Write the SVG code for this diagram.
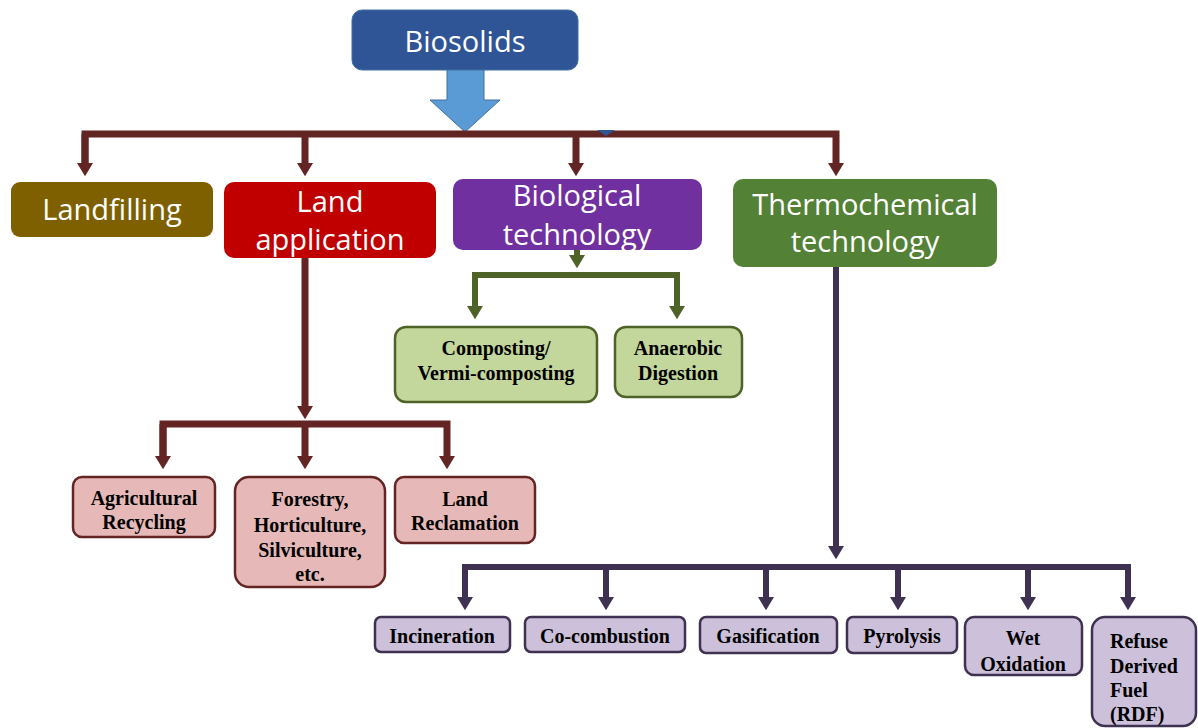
<svg xmlns="http://www.w3.org/2000/svg" width="1198" height="728" viewBox="0 0 1198 728">
<style>
.top{font-family:"Open Sans","Liberation Sans",sans-serif;fill:#fff;text-anchor:middle;font-size:29px}
.sub{font-family:"Liberation Serif","Times New Roman",serif;font-weight:bold;fill:#000;text-anchor:middle;font-size:20px}
.st{text-anchor:start}
.maroon{fill:none;stroke:#632523;stroke-width:7}
.green{fill:none;stroke:#4F6228;stroke-width:6}
.purple{fill:none;stroke:#3F3151;stroke-width:6}
.pink{fill:#E6B9B8;stroke:#632523;stroke-width:2.5}
.lgreen{fill:#C3D69B;stroke:#4F6228;stroke-width:2.5}
.lav{fill:#CCC0DA;stroke:#3F3151;stroke-width:2.5}
</style>
<defs>
<marker id="hm" markerUnits="userSpaceOnUse" markerWidth="20" markerHeight="16" viewBox="0 -9 15 18" refX="0" refY="0" orient="auto"><path d="M0,-9 L15,0 L0,9 Z" fill="#632523"/></marker>
<marker id="hg" markerUnits="userSpaceOnUse" markerWidth="20" markerHeight="16" viewBox="0 -9 15 18" refX="0" refY="0" orient="auto"><path d="M0,-9 L15,0 L0,9 Z" fill="#4F6228"/></marker>
<marker id="hp" markerUnits="userSpaceOnUse" markerWidth="20" markerHeight="16" viewBox="0 -9 15 18" refX="0" refY="0" orient="auto"><path d="M0,-9 L15,0 L0,9 Z" fill="#3F3151"/></marker>
<clipPath id="bioclip"><rect x="453" y="179" width="249" height="71" rx="10"/></clipPath>
</defs>
<rect width="1198" height="728" fill="#fff"/>

<g id="connectors">
  <path d="M466,68 H484 V100 H500 L465,132 L430,100 H447 V68 Z" fill="#5B9BD5" stroke="#41719C" stroke-width="1"/>
  <path class="maroon" d="M85,163 V134 H836 V163" marker-end="url(#hm)"/>
  <path class="maroon" d="M85,134 V163" marker-end="url(#hm)"/>
  <path class="maroon" d="M305,134 V163" marker-end="url(#hm)"/>
  <path class="maroon" d="M576,134 V163" marker-end="url(#hm)"/>
  <path d="M597,130 L615,130 L606,136 Z" fill="#2F5597"/>
  <path class="maroon" d="M305,258 V406" marker-end="url(#hm)"/>
  <path class="maroon" d="M163,456 V424 H447 V456" marker-end="url(#hm)"/>
  <path class="maroon" d="M163,424 V456" marker-end="url(#hm)"/>
  <path class="maroon" d="M305,424 V456" marker-end="url(#hm)"/>
  <path class="green" d="M577,250 V255" marker-end="url(#hg)"/>
  <path class="green" d="M475,306 V275 H677 V306" marker-end="url(#hg)"/>
  <path class="green" d="M475,275 V306" marker-end="url(#hg)"/>
  <path class="purple" d="M836,267 V546" marker-end="url(#hp)"/>
  <path class="purple" d="M465,597 V567 H1128 V597" marker-end="url(#hp)"/>
  <path class="purple" d="M465,567 V597" marker-end="url(#hp)"/>
  <path class="purple" d="M606,567 V597" marker-end="url(#hp)"/>
  <path class="purple" d="M766,567 V597" marker-end="url(#hp)"/>
  <path class="purple" d="M898,567 V597" marker-end="url(#hp)"/>
  <path class="purple" d="M1028,567 V597" marker-end="url(#hp)"/>
</g>

<g id="biosolids">
  <rect x="352" y="10" width="226" height="60" rx="10" fill="#2F5597" stroke="#41719C" stroke-width="1"/>
  <text class="top" x="465" y="52" font-size="30">Biosolids</text>
</g>
<g id="landfilling">
  <rect x="11" y="182" width="202" height="55" rx="9" fill="#7F6000"/>
  <text class="top" x="112" y="220">Landfilling</text>
</g>
<g id="land-application">
  <rect x="224" y="182" width="212" height="76" rx="10" fill="#C00000"/>
  <text class="top" x="330" y="212">Land</text>
  <text class="top" x="330" y="250">application</text>
</g>
<g id="biological">
  <rect x="453" y="179" width="249" height="71" rx="10" fill="#7030A0"/>
  <g clip-path="url(#bioclip)">
    <text class="top" x="577" y="206">Biological</text>
    <text class="top" x="577" y="245">technology</text>
  </g>
</g>
<g id="thermochemical">
  <rect x="733" y="179" width="264" height="88" rx="10" fill="#538135"/>
  <text class="top" x="865" y="215">Thermochemical</text>
  <text class="top" x="865" y="252">technology</text>
</g>

<g id="agricultural">
  <rect class="pink" x="73" y="477" width="142" height="60" rx="9"/>
  <text class="sub" x="144" y="505">Agricultural</text>
  <text class="sub" x="144" y="529">Recycling</text>
</g>
<g id="forestry">
  <rect class="pink" x="235" y="477" width="150" height="110" rx="14"/>
  <text class="sub" x="310" y="506">Forestry,</text>
  <text class="sub" x="310" y="532">Horticulture,</text>
  <text class="sub" x="310" y="557">Silviculture,</text>
  <text class="sub" x="310" y="581">etc.</text>
</g>
<g id="reclamation">
  <rect class="pink" x="395" y="477" width="140" height="66" rx="9"/>
  <text class="sub" x="465" y="506">Land</text>
  <text class="sub" x="465" y="530">Reclamation</text>
</g>

<g id="composting">
  <rect class="lgreen" x="395" y="327" width="202" height="75" rx="11"/>
  <text class="sub" x="496" y="355">Composting/</text>
  <text class="sub" x="496" y="380">Vermi-composting</text>
</g>
<g id="anaerobic">
  <rect class="lgreen" x="615" y="327" width="127" height="70" rx="11"/>
  <text class="sub" x="678" y="355">Anaerobic</text>
  <text class="sub" x="678" y="380">Digestion</text>
</g>

<g id="incineration">
  <rect class="lav" x="375" y="617" width="135" height="35" rx="6"/>
  <text class="sub" x="442" y="643">Incineration</text>
</g>
<g id="cocombustion">
  <rect class="lav" x="525" y="617" width="160" height="35" rx="6"/>
  <text class="sub" x="605" y="643">Co-combustion</text>
</g>
<g id="gasification">
  <rect class="lav" x="700" y="617" width="137" height="36" rx="6"/>
  <text class="sub" x="768" y="643">Gasification</text>
</g>
<g id="pyrolysis">
  <rect class="lav" x="847" y="617" width="110" height="36" rx="6"/>
  <text class="sub" x="902" y="643">Pyrolysis</text>
</g>
<g id="wet-oxidation">
  <rect class="lav" x="965" y="617" width="117" height="58" rx="9"/>
  <text class="sub" x="1023" y="645">Wet</text>
  <text class="sub" x="1023" y="671">Oxidation</text>
</g>
<g id="rdf">
  <rect class="lav" x="1092" y="617" width="104" height="109" rx="13"/>
  <text class="sub st" x="1110" y="648">Refuse</text>
  <text class="sub st" x="1110" y="673">Derived</text>
  <text class="sub st" x="1110" y="697">Fuel</text>
  <text class="sub st" x="1110" y="721">(RDF)</text>
</g>
</svg>
